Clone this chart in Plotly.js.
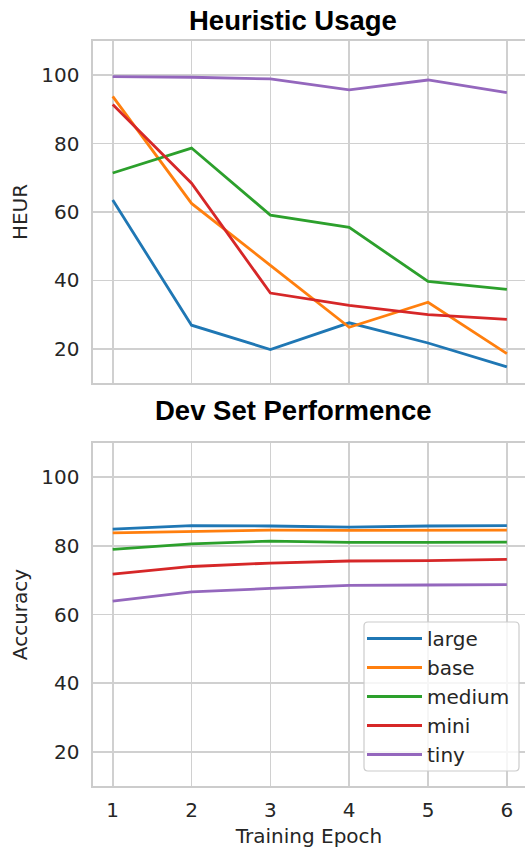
<!DOCTYPE html>
<html><head><meta charset="utf-8">
<script src="https://cdn.plot.ly/plotly-3.0.1.min.js"></script>
<style>body{margin:0;overflow:hidden;background:#fff}</style></head>
<body><div id="chart" style="width:525px;height:848px"></div>
<script>
const epochs = [1, 2, 3, 4, 5, 6];
const seriesNames = ['large', 'base', 'medium', 'mini', 'tiny'];
const seriesColors = ['#1f77b4', '#ff7f0e', '#2ca02c', '#d62728', '#9467bd'];
const yTicks = [20, 40, 60, 80, 100];

const heurLarge  = [63.5, 26.9, 19.8, 27.6, 21.7, 14.7];
const heurBase   = [93.8, 62.5, 44.4, 26.3, 33.6, 18.6];
const heurMedium = [71.4, 78.7, 59.1, 55.5, 39.7, 37.4];
const heurMini   = [91.4, 68.4, 36.3, 32.7, 30.0, 28.6];
const heurTiny   = [99.6, 99.4, 98.9, 95.7, 98.6, 94.9];

const accLarge  = [84.9, 85.9, 85.8, 85.5, 85.8, 85.9];
const accBase   = [83.8, 84.1, 84.6, 84.5, 84.5, 84.6];
const accMedium = [79.0, 80.6, 81.4, 81.0, 81.0, 81.1];
const accMini   = [71.8, 74.0, 75.0, 75.6, 75.7, 76.1];
const accTiny   = [63.9, 66.6, 67.6, 68.5, 68.6, 68.7];

const heurSeries = [heurLarge, heurBase, heurMedium, heurMini, heurTiny];
const accSeries = [accLarge, accBase, accMedium, accMini, accTiny];

const W = 525, H = 848;
const mL = 93, mR = 0, mT = 41, mB = 62;
const plotW = W - mL - mR, plotH = H - mT - mB;
const px2x = p => (p - mL) / plotW;
const px2y = p => (H - mB - p) / plotH;

const traces = [];
heurSeries.forEach((s, i) => traces.push({
  x: epochs, y: s, type: 'scatter', mode: 'lines', name: seriesNames[i],
  line: {color: seriesColors[i], width: 2.8}, xaxis: 'x', yaxis: 'y', showlegend: false
}));
accSeries.forEach((s, i) => traces.push({
  x: epochs, y: s, type: 'scatter', mode: 'lines', name: seriesNames[i],
  line: {color: seriesColors[i], width: 2.8}, xaxis: 'x2', yaxis: 'y2', showlegend: true
}));

const FS = 20;
const tickFont = {family: 'DejaVu Sans', size: FS, color: '#262626'};
const titleFont = {family: 'DejaVu Sans', size: FS, color: '#262626'};
const axCommon = {
  showgrid: true, gridcolor: '#d0d0d0', gridwidth: 1.6,
  showline: true, linecolor: '#cccccc', linewidth: 1.6, mirror: true,
  zeroline: false, tickfont: tickFont, ticks: 'outside', ticklen: 8,
  tickcolor: 'rgba(0,0,0,0)'
};

// rounded legend frame
const bx0 = px2x(364), bx1 = px2x(519), by0 = px2y(771), by1 = px2y(622);
const rx = 4 / plotW, ry = 4 / plotH;
const framePath = `M ${bx0 + rx},${by1} L ${bx1 - rx},${by1} Q ${bx1},${by1} ${bx1},${by1 - ry} ` +
  `L ${bx1},${by0 + ry} Q ${bx1},${by0} ${bx1 - rx},${by0} L ${bx0 + rx},${by0} ` +
  `Q ${bx0},${by0} ${bx0},${by0 + ry} L ${bx0},${by1 - ry} Q ${bx0},${by1} ${bx0 + rx},${by1} Z`;

const layout = {
  width: W, height: H,
  margin: {l: mL, r: mR, t: mT, b: mB},
  paper_bgcolor: '#ffffff', plot_bgcolor: '#ffffff',
  font: {family: 'DejaVu Sans', color: '#262626'},
  xaxis: Object.assign({}, axCommon, {domain: [0, 1], anchor: 'y', range: [0.75, 6.23],
    tickvals: epochs, showticklabels: false}),
  yaxis: Object.assign({}, axCommon, {domain: [px2y(383), 1], anchor: 'x', range: [10, 110],
    tickvals: yTicks, title: {text: 'HEUR', font: titleFont, standoff: 8}}),
  xaxis2: Object.assign({}, axCommon, {domain: [0, 1], anchor: 'y2', range: [0.75, 6.23],
    tickvals: epochs, ticktext: epochs.map(String), ticklen: 5,
    title: {text: 'Training Epoch', font: titleFont, standoff: 8}}),
  yaxis2: Object.assign({}, axCommon, {domain: [0, px2y(443)], anchor: 'x2', range: [10, 110],
    tickvals: yTicks, title: {text: 'Accuracy', font: titleFont, standoff: 8}}),
  showlegend: true,
  legend: {
    x: px2x(362), y: px2y(619), xanchor: 'left', yanchor: 'top',
    bgcolor: 'rgba(0,0,0,0)', borderwidth: 0,
    font: {family: 'DejaVu Sans', size: FS, color: '#262626'},
    itemwidth: 55
  },
  shapes: [{type: 'path', xref: 'paper', yref: 'paper', path: framePath,
    fillcolor: 'rgba(255,255,255,0.8)', line: {color: '#cccccc', width: 1.2}, layer: 'above'}],
  annotations: [
    {text: '<b>Heuristic Usage</b>', xref: 'paper', yref: 'paper', x: px2x(292.5), y: px2y(20),
     xanchor: 'center', yanchor: 'middle', showarrow: false,
     font: {family: 'Liberation Sans', size: 27.5, color: '#000000'}},
    {text: '<b>Dev Set Performence</b>', xref: 'paper', yref: 'paper', x: px2x(293), y: px2y(411),
     xanchor: 'center', yanchor: 'middle', showarrow: false,
     font: {family: 'Liberation Sans', size: 27.5, color: '#000000'}}
  ]
};

Plotly.newPlot('chart', traces, layout, {displayModeBar: false, staticPlot: true});
</script></body></html>
